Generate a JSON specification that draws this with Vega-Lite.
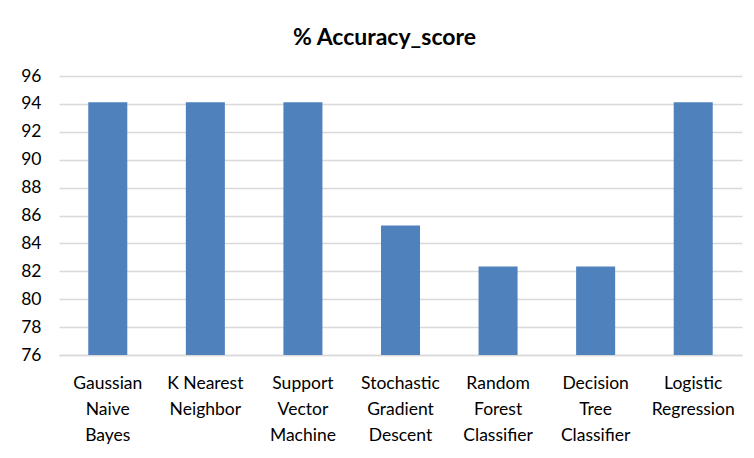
{
  "$schema": "https://vega.github.io/schema/vega-lite/v6.json",
  "width": 683,
  "height": 279,
  "padding": {"left": 20, "top": 27, "right": 11, "bottom": 5},
  "background": "white",
  "title": {
    "text": "% Accuracy_score",
    "font": "Lato",
    "fontSize": 23,
    "fontWeight": "bold",
    "color": "#000000",
    "anchor": "middle",
    "dx": -16,
    "offset": 17
  },
  "data": {
    "values": [
      {"model": "Gaussian|Naive|Bayes", "accuracy": 94.12},
      {"model": "K Nearest|Neighbor", "accuracy": 94.12},
      {"model": "Support|Vector|Machine", "accuracy": 94.12},
      {"model": "Stochastic|Gradient|Descent", "accuracy": 85.29},
      {"model": "Random|Forest|Classifier", "accuracy": 82.35},
      {"model": "Decision|Tree|Classifier", "accuracy": 82.35},
      {"model": "Logistic|Regression", "accuracy": 94.12}
    ]
  },
  "mark": {"type": "bar", "color": "#4F81BD", "clip": true},
  "encoding": {
    "x": {
      "field": "model",
      "type": "nominal",
      "sort": null,
      "scale": {"paddingInner": 0.6, "paddingOuter": 0.3},
      "axis": {
        "title": null,
        "labelAngle": 0,
        "labelExpr": "split(datum.value, '|')",
        "labelFont": "Lato",
        "labelFontSize": 17.5,
        "labelColor": "#000000",
        "labelLineHeight": 26,
        "labelPadding": 19,
        "ticks": false,
        "domainColor": "#d9d9d9",
        "domainWidth": 1.5,
        "grid": false
      }
    },
    "y": {
      "field": "accuracy",
      "type": "quantitative",
      "scale": {"domain": [76, 96], "zero": false, "nice": false},
      "axis": {
        "title": null,
        "values": [76, 78, 80, 82, 84, 86, 88, 90, 92, 94, 96],
        "labelFont": "Lato",
        "labelFontSize": 17.5,
        "labelColor": "#000000",
        "labelPadding": 18,
        "ticks": false,
        "domain": false,
        "gridColor": "#d9d9d9",
        "gridWidth": 1.5
      }
    }
  },
  "config": {"view": {"stroke": null}}
}
